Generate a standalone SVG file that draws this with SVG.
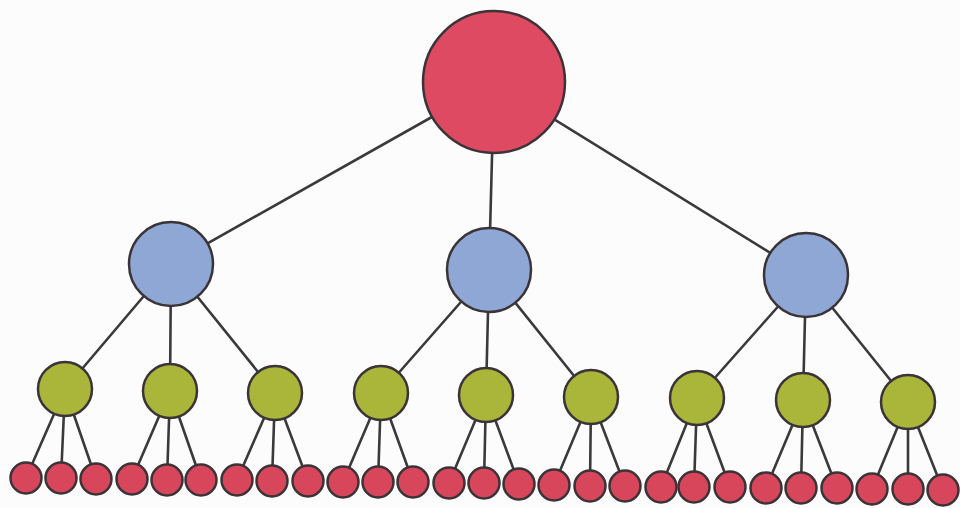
<svg xmlns="http://www.w3.org/2000/svg" width="960" height="508" viewBox="0 0 960 508">
<style>
.e{stroke:#3a3a3a;stroke-width:2.6;fill:none;stroke-linecap:round}
.n{stroke:#3b3338;stroke-width:2.5}
.r{fill:#de4a62}
.b{fill:#8fa7d4}
.g{fill:#a9b63a}
.l{fill:#d8465c}
</style>
<rect width="960" height="508" fill="#fcfcfc"/>
<g id="connectors">
<line class="e" x1="494" y1="82" x2="171" y2="264"/>
<line class="e" x1="494" y1="82" x2="489" y2="270"/>
<line class="e" x1="494" y1="82" x2="806" y2="275"/>
<line class="e" x1="171" y1="264" x2="65" y2="389"/>
<line class="e" x1="171" y1="264" x2="170" y2="391"/>
<line class="e" x1="171" y1="264" x2="275" y2="393"/>
<line class="e" x1="489" y1="270" x2="381" y2="393"/>
<line class="e" x1="489" y1="270" x2="486" y2="395"/>
<line class="e" x1="489" y1="270" x2="591" y2="397"/>
<line class="e" x1="806" y1="275" x2="697" y2="398"/>
<line class="e" x1="806" y1="275" x2="803" y2="400"/>
<line class="e" x1="806" y1="275" x2="908" y2="402"/>
<line class="e" x1="65" y1="389" x2="26" y2="478"/>
<line class="e" x1="65" y1="389" x2="61" y2="478"/>
<line class="e" x1="65" y1="389" x2="96" y2="479"/>
<line class="e" x1="170" y1="391" x2="132" y2="479"/>
<line class="e" x1="170" y1="391" x2="167" y2="480"/>
<line class="e" x1="170" y1="391" x2="201" y2="480"/>
<line class="e" x1="275" y1="393" x2="237" y2="480"/>
<line class="e" x1="275" y1="393" x2="272" y2="481"/>
<line class="e" x1="275" y1="393" x2="308" y2="481"/>
<line class="e" x1="381" y1="393" x2="343" y2="482"/>
<line class="e" x1="381" y1="393" x2="378" y2="482"/>
<line class="e" x1="381" y1="393" x2="413" y2="482"/>
<line class="e" x1="486" y1="395" x2="449" y2="483"/>
<line class="e" x1="486" y1="395" x2="484" y2="483"/>
<line class="e" x1="486" y1="395" x2="519" y2="484"/>
<line class="e" x1="591" y1="397" x2="554" y2="485"/>
<line class="e" x1="591" y1="397" x2="590" y2="486"/>
<line class="e" x1="591" y1="397" x2="625" y2="486"/>
<line class="e" x1="697" y1="398" x2="661" y2="487"/>
<line class="e" x1="697" y1="398" x2="694" y2="487"/>
<line class="e" x1="697" y1="398" x2="730" y2="487"/>
<line class="e" x1="803" y1="400" x2="766" y2="488"/>
<line class="e" x1="803" y1="400" x2="801" y2="488"/>
<line class="e" x1="803" y1="400" x2="837" y2="488"/>
<line class="e" x1="908" y1="402" x2="872" y2="489"/>
<line class="e" x1="908" y1="402" x2="908" y2="489"/>
<line class="e" x1="908" y1="402" x2="943" y2="490"/>
</g>
<g id="root"><circle class="n r" cx="494" cy="82" r="71"/></g>
<g id="b1"><circle class="n b" cx="171" cy="264" r="42"/></g>
<g id="b2"><circle class="n b" cx="489" cy="270" r="42"/></g>
<g id="b3"><circle class="n b" cx="806" cy="275" r="42"/></g>
<g id="g1"><circle class="n g" cx="65" cy="389" r="27"/></g>
<g id="g2"><circle class="n g" cx="170" cy="391" r="27"/></g>
<g id="g3"><circle class="n g" cx="275" cy="393" r="27"/></g>
<g id="g4"><circle class="n g" cx="381" cy="393" r="27"/></g>
<g id="g5"><circle class="n g" cx="486" cy="395" r="27"/></g>
<g id="g6"><circle class="n g" cx="591" cy="397" r="27"/></g>
<g id="g7"><circle class="n g" cx="697" cy="398" r="27"/></g>
<g id="g8"><circle class="n g" cx="803" cy="400" r="27"/></g>
<g id="g9"><circle class="n g" cx="908" cy="402" r="27"/></g>
<g id="l1"><circle class="n l" cx="26" cy="478" r="15.5"/></g>
<g id="l2"><circle class="n l" cx="61" cy="478" r="15.5"/></g>
<g id="l3"><circle class="n l" cx="96" cy="479" r="15.5"/></g>
<g id="l4"><circle class="n l" cx="132" cy="479" r="15.5"/></g>
<g id="l5"><circle class="n l" cx="167" cy="480" r="15.5"/></g>
<g id="l6"><circle class="n l" cx="201" cy="480" r="15.5"/></g>
<g id="l7"><circle class="n l" cx="237" cy="480" r="15.5"/></g>
<g id="l8"><circle class="n l" cx="272" cy="481" r="15.5"/></g>
<g id="l9"><circle class="n l" cx="308" cy="481" r="15.5"/></g>
<g id="l10"><circle class="n l" cx="343" cy="482" r="15.5"/></g>
<g id="l11"><circle class="n l" cx="378" cy="482" r="15.5"/></g>
<g id="l12"><circle class="n l" cx="413" cy="482" r="15.5"/></g>
<g id="l13"><circle class="n l" cx="449" cy="483" r="15.5"/></g>
<g id="l14"><circle class="n l" cx="484" cy="483" r="15.5"/></g>
<g id="l15"><circle class="n l" cx="519" cy="484" r="15.5"/></g>
<g id="l16"><circle class="n l" cx="554" cy="485" r="15.5"/></g>
<g id="l17"><circle class="n l" cx="590" cy="486" r="15.5"/></g>
<g id="l18"><circle class="n l" cx="625" cy="486" r="15.5"/></g>
<g id="l19"><circle class="n l" cx="661" cy="487" r="15.5"/></g>
<g id="l20"><circle class="n l" cx="694" cy="487" r="15.5"/></g>
<g id="l21"><circle class="n l" cx="730" cy="487" r="15.5"/></g>
<g id="l22"><circle class="n l" cx="766" cy="488" r="15.5"/></g>
<g id="l23"><circle class="n l" cx="801" cy="488" r="15.5"/></g>
<g id="l24"><circle class="n l" cx="837" cy="488" r="15.5"/></g>
<g id="l25"><circle class="n l" cx="872" cy="489" r="15.5"/></g>
<g id="l26"><circle class="n l" cx="908" cy="489" r="15.5"/></g>
<g id="l27"><circle class="n l" cx="943" cy="490" r="15.5"/></g>
</svg>
